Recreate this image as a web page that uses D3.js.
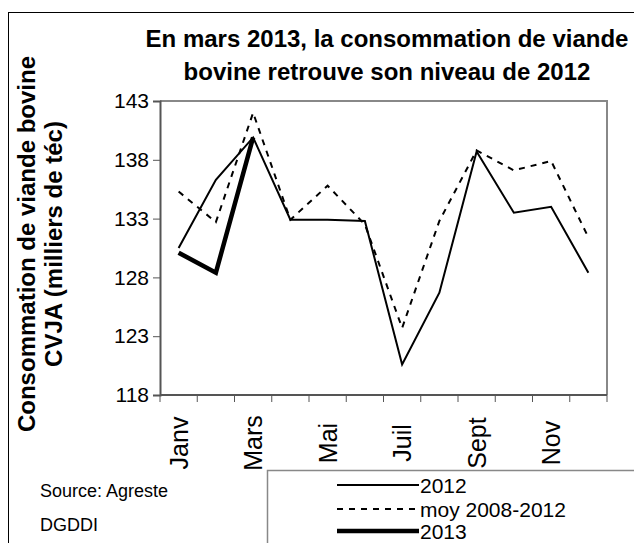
<!DOCTYPE html>
<html>
<head>
<meta charset="utf-8">
<script src="https://cdnjs.cloudflare.com/ajax/libs/d3/7.8.5/d3.min.js"></script>
<style>
  body { margin: 0; background: #fff; }
  svg text { font-family: "Liberation Sans", Arial, sans-serif; fill: #000; }
</style>
</head>
<body>
<svg></svg>
<script>
var months = ["Janv", "Févr", "Mars", "Avr", "Mai", "Juin", "Juil", "Août", "Sept", "Oct", "Nov", "Déc"];
var shownLabels = ["Janv", "Mars", "Mai", "Juil", "Sept", "Nov"];
var yTicks = [118, 123, 128, 133, 138, 143];

var v2012 = [130.5, 136.3, 139.9, 132.9, 132.9, 132.8, 120.6, 126.7, 138.7, 133.5, 134.0, 128.4];
var vMoy = [135.3, 132.7, 142.0, 132.9, 135.8, 132.5, 123.7, 132.8, 138.8, 137.1, 137.9, 131.4];
var v2013 = [130.1, 128.4, 139.9];

var seriesNames = ["2012", "moy 2008-2012", "2013"];

var w = 634, h = 543;
var plotL = 160, plotR = 607, plotT = 101, plotB = 395;

var vis = d3.select("svg").attr("width", w).attr("height", h);

// outer frame
vis.append("rect")
    .attr("x", 8.5).attr("y", 12.5)
    .attr("width", w).attr("height", h)
    .attr("fill", "none").attr("stroke", "#000").attr("stroke-width", 1);

var x = d3.scaleBand().domain(months).range([plotL, plotR]);
var y = d3.scaleLinear().domain([118, 143]).range([plotB, plotT]);

// plot frame (top / right in grey)
vis.append("path")
    .attr("d", "M" + plotL + "," + plotT + "H" + plotR + "V" + plotB)
    .attr("fill", "none").attr("stroke", "#888").attr("stroke-width", 2);

// y axis
var yAxis = d3.axisLeft(y).tickValues(yTicks).tickSize(7).tickPadding(4);
var gy = vis.append("g").attr("transform", "translate(" + plotL + ",0)").call(yAxis);
gy.select(".domain").attr("stroke", "#555").attr("stroke-width", 2);
gy.selectAll(".tick line").attr("stroke", "#555");
gy.selectAll("text").attr("font-size", 21).attr("font-family", "Liberation Sans, Arial, sans-serif");

// x axis: ticks at category boundaries
var edges = months.map(function(d) { return x(d); }).concat([plotR]);
var gx = vis.append("g").attr("transform", "translate(0," + plotB + ")");
gx.append("line").attr("x1", plotL).attr("x2", plotR)
    .attr("stroke", "#555").attr("stroke-width", 2);
gx.selectAll(".xt").data(edges).enter().append("line")
    .attr("x1", function(d) { return d; })
    .attr("x2", function(d) { return d; })
    .attr("y1", 0).attr("y2", 7)
    .attr("stroke", "#555");
gx.selectAll(".xl").data(shownLabels).enter().append("text")
    .attr("transform", function(d) {
      return "translate(" + (x(d) + x.bandwidth() / 2 + 9) + ",48) rotate(-90)";
    })
    .attr("text-anchor", "middle")
    .attr("font-size", 25)
    .text(function(d) { return d; });

var cx = function(d, i) { return x(months[i]) + x.bandwidth() / 2; };
var line = d3.line().x(cx).y(function(d) { return y(d); });

vis.append("path").datum(vMoy).attr("d", line)
    .attr("fill", "none").attr("stroke", "#000").attr("stroke-width", 2)
    .attr("stroke-dasharray", "6,6");
vis.append("path").datum(v2012).attr("d", line)
    .attr("fill", "none").attr("stroke", "#000").attr("stroke-width", 2);
vis.append("path").datum(v2013).attr("d", line)
    .attr("fill", "none").attr("stroke", "#000").attr("stroke-width", 4.5);

// title
var title = vis.append("text").attr("text-anchor", "middle")
    .attr("font-size", 24).attr("font-weight", "bold");
title.append("tspan").attr("x", 387).attr("y", 47).text("En mars 2013, la consommation de viande");
title.append("tspan").attr("x", 387).attr("y", 80).text("bovine retrouve son niveau de 2012");

// y axis title
var yt = vis.append("text").attr("text-anchor", "middle")
    .attr("font-size", 24).attr("font-weight", "bold")
    .attr("transform", "translate(0,244) rotate(-90)");
yt.append("tspan").attr("x", 0).attr("y", 35).text("Consommation de viande bovine");
yt.append("tspan").attr("x", 0).attr("y", 62).text("CVJA (milliers de téc)");

// source
vis.append("text").attr("x", 40).attr("y", 497).attr("font-size", 18).text("Source: Agreste");
vis.append("text").attr("x", 40).attr("y", 531).attr("font-size", 18).text("DGDDI");

// legend
vis.append("rect")
    .attr("x", 267.5).attr("y", 470.5)
    .attr("width", 400).attr("height", 100)
    .attr("fill", "none").attr("stroke", "#888").attr("stroke-width", 1.5);
var legendStyles = [
  { width: 2, dash: null },
  { width: 2, dash: "6,6" },
  { width: 4.5, dash: null }
];
var legendY = [485, 509, 531];
var lg = vis.selectAll(".leg").data(seriesNames).enter().append("g")
    .attr("transform", function(d, i) { return "translate(0," + legendY[i] + ")"; });
lg.append("line").attr("x1", 337).attr("x2", 419)
    .attr("stroke", "#000")
    .attr("stroke-width", function(d, i) { return legendStyles[i].width; })
    .attr("stroke-dasharray", function(d, i) { return legendStyles[i].dash; });
lg.append("text").attr("x", 420).attr("y", 8).attr("font-size", 21)
    .text(function(d) { return d; });
</script>
</body>
</html>
